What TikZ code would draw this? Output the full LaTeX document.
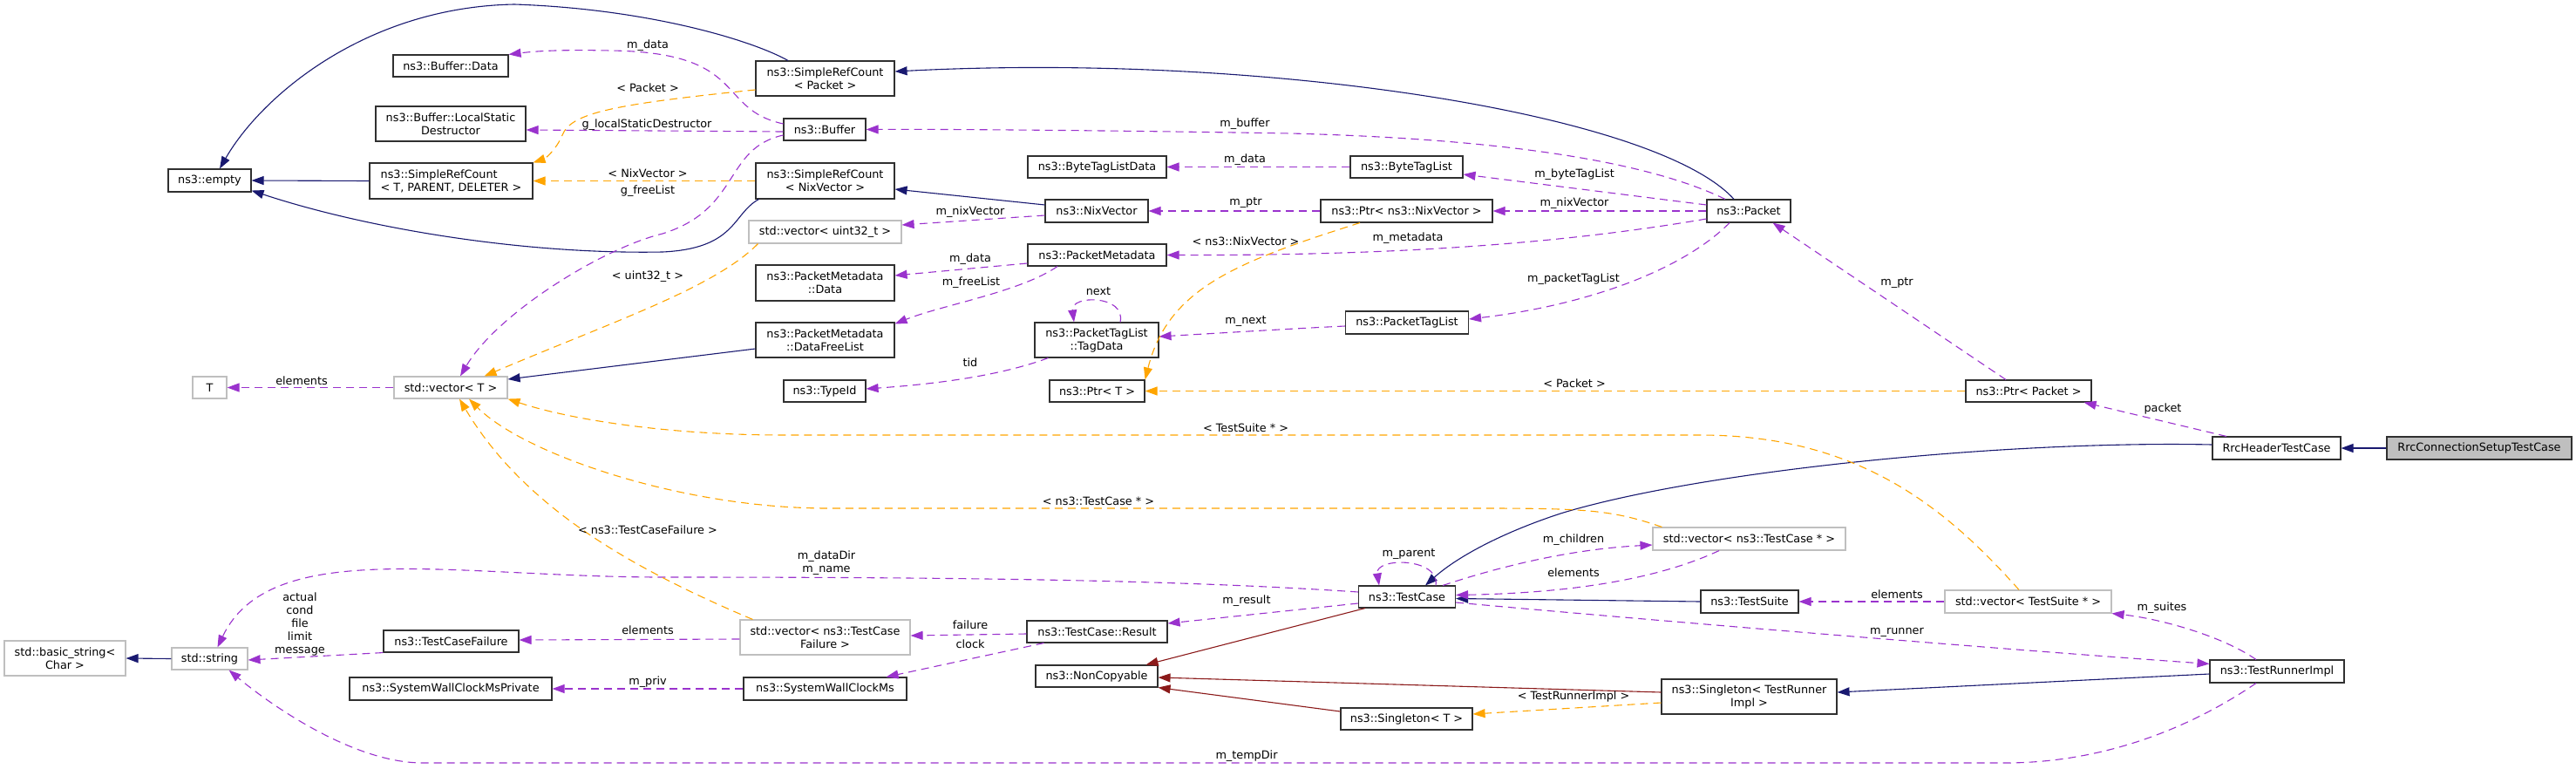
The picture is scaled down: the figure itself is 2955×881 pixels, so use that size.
\documentclass[tikz,border=0pt]{standalone}
\usepackage{fontspec}
\setmainfont{DejaVu Sans}
\usetikzlibrary{arrows.meta}
\definecolor{inhc}{HTML}{191970}
\definecolor{usec}{HTML}{9A32CD}
\definecolor{tmplc}{HTML}{FFA500}
\definecolor{privc}{HTML}{8B1A1A}
\definecolor{grayb}{HTML}{BFBFBF}
\definecolor{boxc}{HTML}{303030}
\newcommand{\nf}{\fontsize{12.8}{15}\selectfont}
\begin{document}
\begin{tikzpicture}[x=1pt,y=-1pt,
  box/.style={draw=boxc,line width=1.1pt,fill=white,inner sep=0pt,align=center,font=\nf},
  gbox/.style={box,draw=grayb},
  lbl/.style={inner sep=0pt,align=center,font=\nf},
  tip/.style={-{Triangle[length=14pt,width=10pt]}},
  inh/.style={draw=inhc,line width=1.1pt,tip},
  priv/.style={draw=privc,line width=1.1pt,tip},
  use/.style={draw=usec,line width=1.1pt,dash pattern=on 9pt off 6pt,tip},
  tmpl/.style={draw=tmplc,line width=1.1pt,dash pattern=on 9pt off 6pt,tip},
]
\useasboundingbox (0,0) rectangle (2955,881);
% nodes
\node[box,minimum width=95pt,minimum height=26pt] (empty) at (240.5,207) {ns3::empty};
\node[box,minimum width=132pt,minimum height=25pt] (bufdata) at (517,75.5) {ns3::Buffer::Data};
\node[box,minimum width=172pt,minimum height=40pt] (lsd) at (517,142) {ns3::Buffer::LocalStatic\\Destructor};
\node[box,align=left,minimum width=187pt,minimum height=41pt] (srcT) at (517.5,207.5) {ns3::SimpleRefCount\\< T, PARENT, DELETER >};
\node[box,minimum width=159pt,minimum height=40pt] (srcPkt) at (946.5,90) {ns3::SimpleRefCount\\< Packet >};
\node[box,minimum width=94pt,minimum height=25pt] (buffer) at (946,148.5) {ns3::Buffer};
\node[box,minimum width=159pt,minimum height=41pt] (srcNix) at (946.5,207.5) {ns3::SimpleRefCount\\< NixVector >};
\node[gbox,minimum width=175pt,minimum height=26pt] (vecU32) at (946.5,266) {std::vector< uint32\_t >};
\node[box,minimum width=159pt,minimum height=25pt] (btld) at (1258.5,191.5) {ns3::ByteTagListData};
\node[box,minimum width=118pt,minimum height=26pt] (nixv) at (1258,242) {ns3::NixVector};
\node[box,minimum width=159pt,minimum height=25pt] (pmd) at (1258.5,292.5) {ns3::PacketMetadata};
\node[box,minimum width=129pt,minimum height=25pt] (btl) at (1613.5,191.5) {ns3::ByteTagList};
\node[box,minimum width=197pt,minimum height=26pt] (ptrNix) at (1613.5,242) {ns3::Ptr< ns3::NixVector >};
\node[box,minimum width=96pt,minimum height=26pt] (packet) at (2006,242) {ns3::Packet};
\node[gbox,minimum width=39pt,minimum height=25pt] (T) at (240.5,444.5) {T};
\node[gbox,minimum width=130pt,minimum height=25pt] (vecT) at (517,444.5) {std::vector< T >};
\node[box,minimum width=159pt,minimum height=41pt] (pmdData) at (946.5,324.5) {ns3::PacketMetadata\\::Data};
\node[box,minimum width=159pt,minimum height=40pt] (pmdFree) at (946.5,390) {ns3::PacketMetadata\\::DataFreeList};
\node[box,minimum width=142pt,minimum height=40pt] (tagData) at (1258,390) {ns3::PacketTagList\\::TagData};
\node[box,minimum width=94pt,minimum height=25pt] (typeid) at (946,448.5) {ns3::TypeId};
\node[box,minimum width=109pt,minimum height=25pt] (ptrT) at (1258.5,448.5) {ns3::Ptr< T >};
\node[box,minimum width=141pt,minimum height=26pt] (ptl) at (1614,370) {ns3::PacketTagList};
\node[box,minimum width=144pt,minimum height=25pt] (ptrPkt) at (2327,448.5) {ns3::Ptr< Packet >};
\node[box,minimum width=147pt,minimum height=26pt] (rrcH) at (2611.5,514) {RrcHeaderTestCase};
\node[box,fill=grayb,minimum width=212pt,minimum height=26pt] (rrcC) at (2844,514) {RrcConnectionSetupTestCase};
\node[gbox,minimum width=139pt,minimum height=40pt] (basicStr) at (74.5,755) {std::basic\_string<\\Char >};
\node[gbox,minimum width=87pt,minimum height=25pt] (str) at (240.5,755.5) {std::string};
\node[box,minimum width=155pt,minimum height=25pt] (tcf) at (517.5,735.5) {ns3::TestCaseFailure};
\node[box,minimum width=232pt,minimum height=26pt] (swcmp) at (517,790) {ns3::SystemWallClockMsPrivate};
\node[gbox,minimum width=195pt,minimum height=40pt] (vecTCF) at (946.5,731) {std::vector< ns3::TestCase\\Failure >};
\node[box,minimum width=161pt,minimum height=25pt] (result) at (1258.5,724.5) {ns3::TestCase::Result};
\node[box,minimum width=187pt,minimum height=26pt] (swcm) at (946.5,790) {ns3::SystemWallClockMs};
\node[box,minimum width=140pt,minimum height=25pt] (noncopy) at (1258,775.5) {ns3::NonCopyable};
\node[box,minimum width=111pt,minimum height=25pt] (testcase) at (1614,684.5) {ns3::TestCase};
\node[gbox,minimum width=221pt,minimum height=26pt] (vecTC) at (2006.5,618) {std::vector< ns3::TestCase * >};
\node[box,minimum width=112pt,minimum height=26pt] (testsuite) at (2007,690) {ns3::TestSuite};
\node[box,minimum width=201pt,minimum height=40pt] (singTR) at (2006.5,799) {ns3::Singleton< TestRunner\\Impl >};
\node[box,minimum width=151pt,minimum height=25pt] (singT) at (1613.5,824.5) {ns3::Singleton< T >};
\node[gbox,minimum width=191pt,minimum height=26pt] (vecTS) at (2326.5,690) {std::vector< TestSuite * >};
\node[box,minimum width=154pt,minimum height=26pt] (runner) at (2612,770) {ns3::TestRunnerImpl};
% inheritance
\draw[inh] ([xshift=-42.5pt]srcPkt.north) .. controls (860,45) and (740,10) .. (590,5) .. controls (420,8) and (300,110) .. ([xshift=11.5pt]empty.north);
\draw[inh] (srcT.west) -- (empty.east);
\draw[inh] ([xshift=4pt]srcNix.south west) .. controls (840,245) and (845,285) .. (760,289) .. controls (600,292) and (420,262) .. ([yshift=2pt]empty.south east);
\draw[inh] ([xshift=-17pt]packet.north) .. controls (1900,130) and (1450,60) .. ([yshift=8pt]srcPkt.east);
\draw[inh] ([yshift=7pt]nixv.west) -- ([yshift=-9.5pt]srcNix.east);
\draw[inh] ([yshift=-10pt]pmdFree.west) -- ([yshift=9.5pt]vecT.east);
\draw[inh] (rrcC.west) -- (rrcH.east);
\draw[inh] ([yshift=4pt]rrcH.west) .. controls (2300,505) and (1950,540) .. (1790,589) .. controls (1720,612) and (1670,640) .. ([xshift=21pt]testcase.north);
\draw[inh] (testsuite.west) -- ([yshift=-2pt]testcase.east);
\draw[inh] ([yshift=-3pt]runner.west) -- ([yshift=5pt]singTR.east);
\draw[inh] (str.west) -- (basicStr.east);
% private inheritance
\draw[priv] ([xshift=-48pt]testcase.south) -- ([xshift=-14pt]noncopy.north east);
\draw[priv] ([yshift=5pt]singTR.west) -- ([yshift=-1.5pt]noncopy.east);
\draw[priv] ([yshift=8.5pt]singT.west) -- (noncopy.south east);
% usage
\draw[use] ([yshift=6.5pt]buffer.west) .. controls (820,125) and (860,60) .. (700,58) .. controls (650,57) and (620,58) .. (bufdata.north east);
\node[lbl] (l1) at (743,52) {m\_data};
\draw[use] ([yshift=-2.5pt]buffer.west) -- ([yshift=-7pt]lsd.east);
\node[lbl] (l2) at (742,143) {g\_localStaticDestructor};
\draw[use] ([yshift=-6.5pt]buffer.west) .. controls (830,170) and (850,240) .. (760,268) .. controls (690,285) and (570,360) .. ([xshift=11pt]vecT.north);
\node[lbl] (l3) at (743,219) {g\_freeList};
\draw[use] ([xshift=-27pt]packet.north) .. controls (1900,190) and (1750,160) .. (1480,153) .. controls (1300,150) and (1100,148) .. (buffer.east);
\node[lbl] (l4) at (1428,142) {m\_buffer};
\draw[use] (btl.west) -- (btld.east);
\node[lbl] (l5) at (1428,183) {m\_data};
\draw[use] ([yshift=7pt]packet.west) -- ([yshift=-8.5pt]btl.east);
\node[lbl] (l6) at (1806,200) {m\_byteTagList};
\draw[use] (packet.west) -- (ptrNix.east);
\node[lbl] (l7) at (1806,233) {m\_nixVector};
\draw[use] (ptrNix.west) -- (nixv.east);
\node[lbl] (l8) at (1429,233) {m\_ptr};
\draw[use] ([yshift=-5pt]nixv.west) -- ([yshift=8pt]vecU32.east);
\node[lbl] (l9) at (1113,243) {m\_nixVector};
\draw[use] ([yshift=-9pt]packet.west) .. controls (1760,285) and (1550,293) .. (pmd.east);
\node[lbl] (l10) at (1615,273) {m\_metadata};
\draw[use] ([yshift=-9.5pt]pmd.west) -- ([yshift=8.5pt]pmdData.east);
\node[lbl] (l11) at (1113,297) {m\_data};
\draw[use] ([xshift=-45.5pt]pmd.south) .. controls (1170,335) and (1080,350) .. ([yshift=-2pt]pmdFree.north east);
\node[lbl] (l12) at (1114,324) {m\_freeList};
\draw[use] ([xshift=27pt]tagData.north) .. controls (1292,338) and (1228,338) .. ([xshift=-26pt]tagData.north);
\node[lbl] (l13) at (1260,334) {next};
\draw[use] ([yshift=-4pt]ptl.west) .. controls (1480,377) and (1400,382) .. ([yshift=4pt]tagData.east);
\node[lbl] (l14) at (1429,369) {m\_next};
\draw[use] ([xshift=16pt]tagData.south west) .. controls (1150,430) and (1080,440) .. ([yshift=2.5pt]typeid.east);
\node[lbl] (l15) at (1113,416) {tid};
\draw[use] ([xshift=-22pt]packet.south) .. controls (1930,310) and (1820,350) .. ([yshift=4pt]ptl.east);
\node[lbl] (l16) at (1805,320) {m\_packetTagList};
\draw[use] ([xshift=-26pt]ptrPkt.north) -- ([xshift=-21pt]packet.south east);
\node[lbl] (l17) at (2176,325) {m\_ptr};
\draw[use] ([xshift=-57.5pt]rrcH.north) -- ([xshift=-9pt]ptrPkt.south east);
\node[lbl] (l18) at (2481,469) {packet};
\draw[use] (vecT.west) -- (T.east);
\node[lbl] (l19) at (346,437) {elements};
\draw[use] (tcf.south west) -- ([yshift=-1.5pt]str.east);
\node[lbl] (l20) at (344,716) {actual\\cond\\file\\limit\\message};
\draw[use] ([yshift=-2pt]vecTCF.west) -- ([yshift=1.5pt]tcf.east);
\node[lbl] (l21) at (743,723) {elements};
\draw[use] ([yshift=-2.5pt]result.west) -- ([yshift=2pt]vecTCF.east);
\node[lbl] (l22) at (1113,717) {failure};
\draw[use] ([xshift=20pt]result.south west) -- ([xshift=-24pt]swcm.north east);
\node[lbl] (l23) at (1113,739) {clock};
\draw[use] (swcm.west) -- (swcmp.east);
\node[lbl] (l24) at (743,782) {m\_priv};
\draw[use] ([yshift=-7.5pt]testcase.west) -- ([yshift=9.5pt]result.east);
\node[lbl] (l25) at (1430,689) {m\_result};
\draw[use] ([yshift=5.5pt]testcase.west) .. controls (1350,665) and (1100,662) .. (760,662) .. controls (520,662) and (310,615) .. ([xshift=9pt]str.north);
\node[lbl] (l26) at (948,646) {m\_dataDir\\m\_name};
\draw[use] ([xshift=33pt]testcase.north) .. controls (1652,639) and (1577,639) .. ([xshift=-32pt]testcase.north);
\node[lbl] (l27) at (1616,636) {m\_parent};
\draw[use] ([xshift=-15pt]testcase.north east) .. controls (1720,650) and (1800,630) .. ([yshift=-7pt]vecTC.west);
\node[lbl] (l28) at (1805,619) {m\_children};
\draw[use] ([xshift=-34.5pt]vecTC.south) .. controls (1900,665) and (1800,680) .. ([yshift=2pt]testcase.east);
\node[lbl] (l29) at (1805,657) {elements};
\draw[use] (vecTS.west) -- (testsuite.east);
\node[lbl] (l30) at (2176,682) {elements};
\draw[use] ([yshift=-6.5pt]testcase.east) .. controls (1900,712) and (2300,745) .. ([yshift=-5pt]runner.north west);
\node[lbl] (l31) at (2176,725) {m\_runner};
\draw[use] ([xshift=-24pt]runner.north) .. controls (2550,730) and (2480,710) .. (vecTS.south east);
\node[lbl] (l32) at (2480,697) {m\_suites};
\draw[use] ([xshift=-24pt]runner.south) .. controls (2520,830) and (2420,875) .. (2300,875) -- (485,875) .. controls (400,875) and (300,800) .. ([xshift=-22pt]str.south east);
\node[lbl] (l33) at (1430,867) {m\_tempDir};
% template instances
\draw[tmpl] ([yshift=-13pt]srcPkt.west) .. controls (700,120) and (655,130) .. (645,155) .. controls (638,172) and (625,182) .. (srcT.north east);
\node[lbl] (t1) at (743,101) {< Packet >};
\draw[tmpl] (srcNix.west) -- (srcT.east);
\node[lbl] (t2) at (743,199) {< NixVector >};
\draw[tmpl] ([xshift=11pt]vecU32.south west) .. controls (820,330) and (700,370) .. ([xshift=-27pt]vecT.north east);
\node[lbl] (t3) at (743,317) {< uint32\_t >};
\draw[tmpl] ([xshift=-53.5pt]ptrNix.south) .. controls (1420,300) and (1340,330) .. (ptrT.north east);
\node[lbl] (t4) at (1429,277) {< ns3::NixVector >};
\draw[tmpl] (ptrPkt.west) -- (ptrT.east);
\node[lbl] (t5) at (1806,440) {< Packet >};
\draw[tmpl] ([xshift=-10.5pt]vecTS.north) .. controls (2230,580) and (2130,499) .. (1950,499) -- (900,499) .. controls (760,499) and (650,480) .. (vecT.south east);
\node[lbl] (t6) at (1429,491) {< TestSuite * >};
\draw[tmpl] ([xshift=11pt]vecTC.north west) .. controls (1850,585) and (1820,583) .. (1700,583) -- (950,583) .. controls (780,583) and (600,520) .. ([xshift=21pt]vecT.south);
\node[lbl] (t7) at (1260,575) {< ns3::TestCase * >};
\draw[tmpl] ([xshift=15pt]vecTCF.north west) .. controls (720,650) and (600,580) .. ([xshift=10pt]vecT.south);
\node[lbl] (t8) at (743,608) {< ns3::TestCaseFailure >};
\draw[tmpl] ([yshift=-7pt]singTR.west) -- ([yshift=5.5pt]singT.east);
\node[lbl] (t9) at (1805,799) {< TestRunnerImpl >};
\end{tikzpicture}
\end{document}
